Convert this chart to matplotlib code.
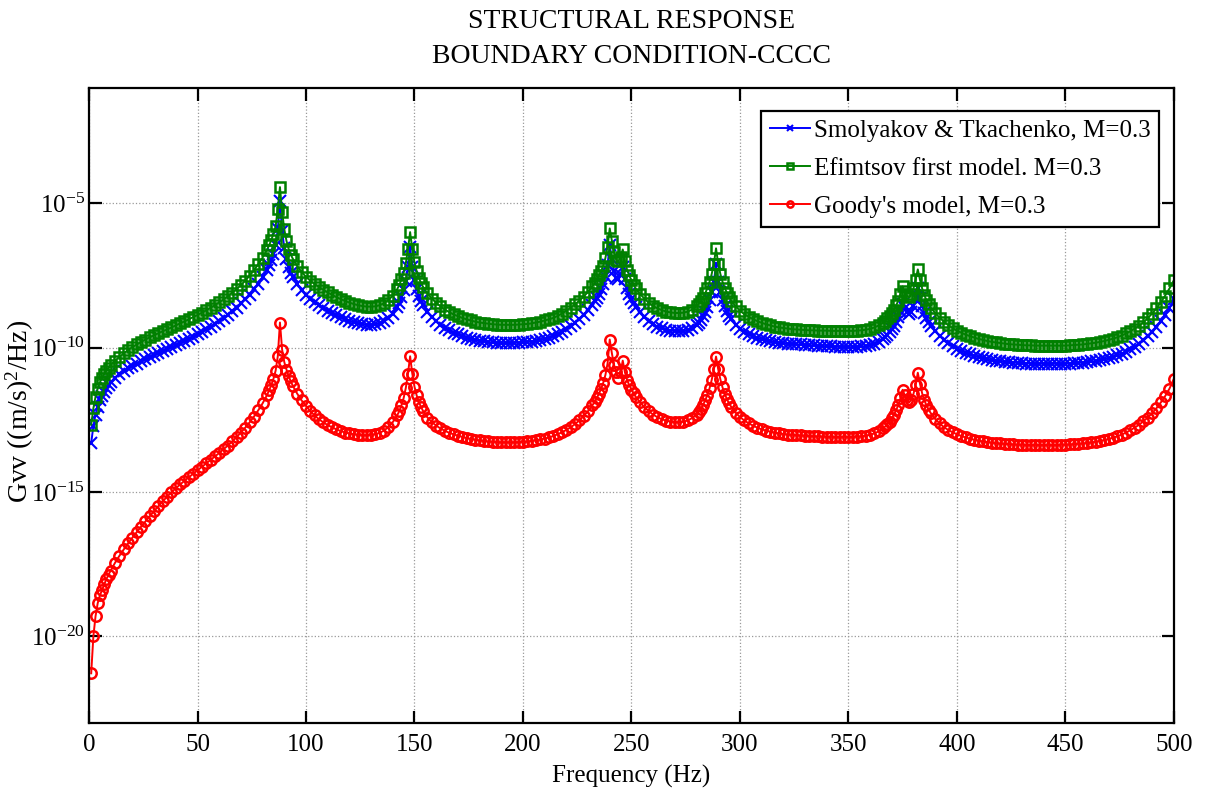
import numpy as np
import matplotlib
matplotlib.use("Agg")
import matplotlib.pyplot as plt
from matplotlib.ticker import NullLocator, LogFormatterMathtext

# Frequency grid (Hz), finer around the resonances
freq = ([*range(1, 11)] + [*range(12, 81, 2)] + [*range(82, 95)] + [*range(96, 141, 2)]
        + [*range(142, 155)] + [*range(156, 233, 2)] + [*range(233, 253)]
        + [*range(254, 281, 2)] + [*range(281, 297)] + [*range(298, 367, 2)]
        + [*range(367, 389)] + [*range(390, 501, 2)])

# log10 of Gvv
smolyakov_log = [
    -13.30, -12.72, -12.32, -12.04, -11.82, -11.66, -11.53, -11.41, -11.30, -11.20,
    -11.05, -10.93, -10.82, -10.72, -10.63, -10.55, -10.47, -10.40, -10.33, -10.26,
    -10.19, -10.12, -10.06, -9.99, -9.92, -9.85, -9.78, -9.70, -9.62, -9.54,
    -9.46, -9.37, -9.28, -9.18, -9.08, -8.97, -8.86, -8.74, -8.61, -8.47,
    -8.32, -8.16, -7.98, -7.78, -7.56,
    -7.30, -7.14, -6.96, -6.74, -6.45, -5.90, -4.93, -5.95, -6.55, -6.92, -7.20, -7.40, -7.56,
    -7.80, -8.00, -8.17, -8.31, -8.43, -8.53, -8.63, -8.72, -8.80, -8.88,
    -8.95, -9.01, -9.07, -9.12, -9.16, -9.19, -9.20, -9.20, -9.19, -9.15,
    -9.08, -8.97, -8.82,
    -8.60, -8.45, -8.26, -8.02, -7.70, -7.20, -6.50, -7.20, -7.67, -7.97, -8.20, -8.38, -8.53,
    -8.75, -8.93, -9.08, -9.20, -9.31, -9.40, -9.48, -9.54, -9.60, -9.65,
    -9.69, -9.73, -9.76, -9.78, -9.80, -9.82, -9.83, -9.84, -9.84, -9.84,
    -9.84, -9.83, -9.82, -9.81, -9.79, -9.76, -9.73, -9.69, -9.65, -9.60,
    -9.53, -9.45, -9.35, -9.25, -9.13, -9.00, -8.86, -8.70, -8.51,
    -8.40, -8.27, -8.13, -7.98, -7.79, -7.53, -7.13, -6.45, -6.93, -7.33,
    -7.58, -7.63, -7.48, -7.20, -7.63, -7.93, -8.13, -8.30, -8.45, -8.58,
    -8.78, -8.93, -9.08, -9.19, -9.27, -9.33, -9.38, -9.41, -9.43, -9.44, -9.43, -9.39, -9.32, -9.21,
    -9.13, -9.03, -8.91, -8.76, -8.58, -8.36, -8.09, -7.74, -7.10, -7.74, -8.09, -8.36, -8.57, -8.74, -8.89, -9.01,
    -9.20, -9.34, -9.45, -9.53, -9.60, -9.66, -9.71, -9.75, -9.78, -9.81,
    -9.83, -9.85, -9.86, -9.87, -9.88, -9.89, -9.90, -9.91, -9.92, -9.93,
    -9.94, -9.95, -9.96, -9.97, -9.98, -9.98, -9.98, -9.98, -9.97, -9.96,
    -9.94, -9.91, -9.86, -9.79, -9.69,
    -9.63, -9.55, -9.46, -9.36, -9.24, -9.10, -8.93, -8.72, -8.48, -8.64, -8.78,
    -8.85, -8.75, -8.55, -8.28, -7.95, -8.28, -8.57, -8.80, -8.98, -9.12, -9.24,
    -9.42, -9.58, -9.72, -9.84, -9.94, -10.03, -10.10, -10.17, -10.23, -10.28,
    -10.32, -10.36, -10.40, -10.43, -10.45, -10.47, -10.49, -10.51, -10.52, -10.53,
    -10.54, -10.55, -10.55, -10.56, -10.56, -10.56, -10.56, -10.56, -10.56, -10.56,
    -10.56, -10.55, -10.54, -10.53, -10.52, -10.50, -10.48, -10.46, -10.43, -10.40,
    -10.36, -10.32, -10.27, -10.21, -10.14, -10.06, -9.97, -9.87, -9.75, -9.61,
    -9.46, -9.28, -9.08, -8.86, -8.61, -8.33,
]

efimtsov_log = [
    -12.67, -12.10, -11.70, -11.42, -11.20, -11.05, -10.92, -10.80, -10.70, -10.60,
    -10.45, -10.32, -10.20, -10.08, -9.98, -9.89, -9.80, -9.72, -9.64, -9.57,
    -9.50, -9.43, -9.37, -9.30, -9.23, -9.16, -9.09, -9.02, -8.94, -8.87,
    -8.79, -8.71, -8.62, -8.53, -8.43, -8.33, -8.22, -8.10, -7.97, -7.83,
    -7.68, -7.51, -7.32, -7.11, -6.88,
    -6.62, -6.45, -6.28, -6.05, -5.80, -5.20, -4.44, -5.30, -5.90, -6.30, -6.58, -6.78, -6.93,
    -7.18, -7.38, -7.55, -7.68, -7.80, -7.90, -8.00, -8.09, -8.17, -8.25,
    -8.32, -8.38, -8.44, -8.49, -8.53, -8.56, -8.58, -8.58, -8.57, -8.53,
    -8.46, -8.35, -8.20,
    -7.98, -7.83, -7.64, -7.40, -7.08, -6.60, -6.00, -6.60, -7.05, -7.35, -7.58, -7.76, -7.90,
    -8.12, -8.30, -8.45, -8.57, -8.68, -8.77, -8.85, -8.91, -8.97, -9.02,
    -9.06, -9.10, -9.13, -9.15, -9.17, -9.19, -9.20, -9.21, -9.21, -9.21,
    -9.21, -9.20, -9.19, -9.18, -9.16, -9.13, -9.10, -9.06, -9.02, -8.97,
    -8.90, -8.82, -8.72, -8.62, -8.50, -8.37, -8.23, -8.07, -7.88,
    -7.77, -7.64, -7.50, -7.35, -7.16, -6.90, -6.50, -5.87, -6.30, -6.70,
    -6.95, -7.00, -6.85, -6.60, -7.00, -7.30, -7.50, -7.67, -7.82, -7.95,
    -8.15, -8.30, -8.45, -8.56, -8.64, -8.70, -8.75, -8.78, -8.80, -8.80, -8.79, -8.75, -8.68, -8.57,
    -8.49, -8.39, -8.27, -8.12, -7.94, -7.72, -7.45, -7.10, -6.56, -7.10, -7.45, -7.72, -7.93, -8.10, -8.25, -8.37,
    -8.57, -8.72, -8.84, -8.93, -9.01, -9.08, -9.14, -9.19, -9.23, -9.27,
    -9.30, -9.32, -9.34, -9.36, -9.37, -9.38, -9.39, -9.40, -9.40, -9.41,
    -9.41, -9.41, -9.42, -9.42, -9.42, -9.42, -9.42, -9.42, -9.41, -9.40,
    -9.38, -9.35, -9.30, -9.23, -9.13,
    -9.07, -8.99, -8.90, -8.80, -8.68, -8.54, -8.37, -8.15, -7.88, -8.05, -8.20,
    -8.26, -8.15, -7.95, -7.65, -7.29, -7.65, -7.95, -8.18, -8.36, -8.50, -8.62,
    -8.80, -8.96, -9.10, -9.22, -9.32, -9.41, -9.48, -9.55, -9.60, -9.65,
    -9.70, -9.73, -9.77, -9.80, -9.82, -9.84, -9.86, -9.88, -9.89, -9.90,
    -9.91, -9.92, -9.92, -9.93, -9.93, -9.93, -9.93, -9.93, -9.93, -9.93,
    -9.93, -9.92, -9.91, -9.90, -9.89, -9.87, -9.85, -9.83, -9.80, -9.77,
    -9.73, -9.69, -9.64, -9.58, -9.51, -9.43, -9.34, -9.24, -9.12, -8.98,
    -8.82, -8.64, -8.43, -8.20, -7.95, -7.67,
]

goody_log = [
    -21.28, -20.00, -19.30, -18.85, -18.58, -18.40, -18.20, -18.02, -17.86, -17.72,
    -17.45, -17.21, -16.99, -16.78, -16.58, -16.39, -16.20, -16.02, -15.84, -15.66,
    -15.49, -15.32, -15.16, -15.01, -14.87, -14.74, -14.61, -14.49, -14.37, -14.25,
    -14.13, -14.01, -13.89, -13.77, -13.65, -13.52, -13.39, -13.25, -13.10, -12.94,
    -12.77, -12.59, -12.39, -12.17, -11.93,
    -11.65, -11.48, -11.30, -11.08, -10.80, -10.30, -9.13, -10.07, -10.50, -10.76, -10.98, -11.17, -11.33,
    -11.60, -11.83, -12.02, -12.20, -12.35, -12.48, -12.59, -12.68, -12.76, -12.83,
    -12.89, -12.94, -12.97, -13.00, -13.02, -13.03, -13.03, -13.02, -13.00, -12.95,
    -12.87, -12.75, -12.58,
    -12.35, -12.20, -12.00, -11.75, -11.40, -10.90, -10.30, -10.90, -11.35, -11.65, -11.88, -12.05, -12.20,
    -12.42, -12.58, -12.70, -12.80, -12.88, -12.95, -13.00, -13.05, -13.09, -13.13,
    -13.16, -13.19, -13.21, -13.23, -13.25, -13.26, -13.27, -13.28, -13.28, -13.28,
    -13.28, -13.27, -13.26, -13.25, -13.23, -13.21, -13.18, -13.15, -13.11, -13.06,
    -13.00, -12.93, -12.85, -12.76, -12.65, -12.52, -12.37, -12.20, -12.00,
    -11.88, -11.75, -11.60, -11.43, -11.22, -10.95, -10.55, -9.72, -10.20, -10.60,
    -10.85, -11.05, -10.85, -10.45, -10.85, -11.12, -11.30, -11.45, -11.58, -11.70,
    -11.90, -12.06, -12.20, -12.32, -12.41, -12.48, -12.53, -12.56, -12.58, -12.58, -12.57, -12.52, -12.44, -12.32,
    -12.23, -12.12, -11.99, -11.83, -11.64, -11.41, -11.12, -10.75, -10.31, -10.75, -11.10, -11.38, -11.60, -11.78, -11.93, -12.05,
    -12.25, -12.40, -12.52, -12.62, -12.70, -12.77, -12.83, -12.87, -12.91, -12.94,
    -12.97, -12.99, -13.01, -13.02, -13.03, -13.04, -13.05, -13.06, -13.07, -13.07,
    -13.08, -13.08, -13.09, -13.09, -13.09, -13.09, -13.09, -13.09, -13.08, -13.07,
    -13.05, -13.02, -12.97, -12.90, -12.80,
    -12.73, -12.65, -12.56, -12.45, -12.32, -12.17, -11.99, -11.76, -11.46, -11.65, -11.82,
    -11.90, -11.80, -11.60, -11.30, -10.87, -11.25, -11.58, -11.82, -12.00, -12.15, -12.27,
    -12.47, -12.62, -12.75, -12.85, -12.93, -13.00, -13.06, -13.11, -13.15, -13.19,
    -13.22, -13.25, -13.27, -13.29, -13.31, -13.32, -13.33, -13.34, -13.35, -13.36,
    -13.36, -13.37, -13.37, -13.37, -13.37, -13.37, -13.37, -13.37, -13.37, -13.36,
    -13.36, -13.35, -13.34, -13.33, -13.32, -13.30, -13.28, -13.26, -13.23, -13.20,
    -13.16, -13.12, -13.07, -13.01, -12.94, -12.86, -12.77, -12.67, -12.55, -12.42,
    -12.27, -12.10, -11.90, -11.68, -11.42, -11.08,
]

labels = ["Smolyakov & Tkachenko, M=0.3", "Efimtsov first model. M=0.3", "Goody's model, M=0.3"]
xticks = [0, 50, 100, 150, 200, 250, 300, 350, 400, 450, 500]
yticks = [1e-20, 1e-15, 1e-10, 1e-5]

assert len(freq) == len(smolyakov_log) == len(efimtsov_log) == len(goody_log)

plt.rcParams['font.family'] = ['Liberation Serif', 'DejaVu Serif']
plt.rcParams['mathtext.fontset'] = 'custom'
plt.rcParams['mathtext.rm'] = 'Liberation Serif'
plt.rcParams['mathtext.it'] = 'Liberation Serif:italic'

fig = plt.figure(figsize=(12.08, 7.98), dpi=100)
ax = fig.add_axes([0.0737, 0.094, 0.898, 0.796])

f = np.array(freq)
ax.semilogy(f, 10.0 ** np.array(smolyakov_log), '-x', color=(0, 0, 1), lw=1.4,
            ms=8, mew=1.5, label=labels[0])
ax.semilogy(f, 10.0 ** np.array(efimtsov_log), '-s', color=(0, 0.5, 0), lw=1.4,
            ms=7, mew=1.8, mfc='none', label=labels[1])
ax.semilogy(f, 10.0 ** np.array(goody_log), '-o', color=(1, 0, 0), lw=1.4,
            ms=7.5, mew=1.8, mfc='none', label=labels[2])

ax.set_xlim(0, 500)
ax.set_ylim(1e-23, 1e-1)
ax.set_xticks(xticks)
ax.set_yticks(yticks)
ax.yaxis.set_major_formatter(LogFormatterMathtext())
ax.yaxis.set_minor_locator(NullLocator())
ax.xaxis.set_minor_locator(NullLocator())
ax.tick_params(direction='in', length=9, width=1.6, top=True, right=True, labelsize=18)
ax.tick_params(axis='x', pad=8)
ax.tick_params(axis='y', pad=3, labelsize=18)
for s in ax.spines.values():
    s.set_linewidth(1.6)
ax.grid(True, color='0.6', ls=':', lw=0.9)

ax.set_xlabel("Frequency (Hz)", fontsize=18, labelpad=6)
ax.set_ylabel(r"Gvv ((m/s)$^2$/Hz)", fontsize=20)
ax.yaxis.set_label_coords(-0.049, 0.49)
ax.set_title("STRUCTURAL RESPONSE\nBOUNDARY CONDITION-CCCC", fontsize=20, pad=18,
             linespacing=1.5)

leg = ax.legend(loc='upper right', bbox_to_anchor=(0.991, 0.972), fontsize=18,
                fancybox=False, framealpha=1, edgecolor='black',
                handlelength=1.6, handletextpad=0.15, borderpad=0.35,
                labelspacing=0.62, borderaxespad=0.2, markerscale=0.6)
leg.get_frame().set_linewidth(1.6)

fig.savefig("out.png", dpi=100)
